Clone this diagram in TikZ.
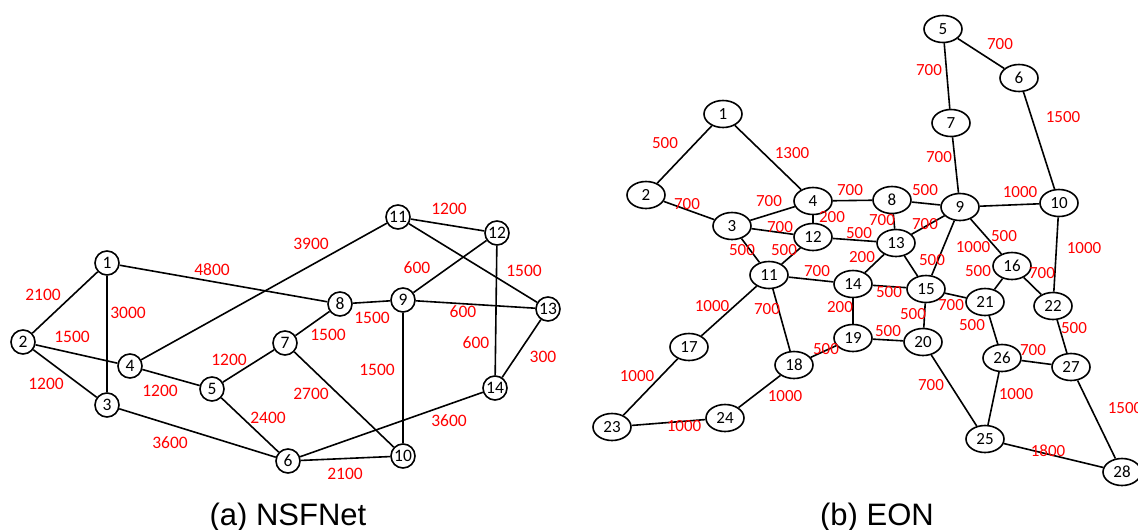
\documentclass[tikz,border=0pt]{standalone}
\usepackage{fontspec}
\setmainfont{Carlito}
\newfontfamily\capfont{Liberation Sans}
\usetikzlibrary{shapes.geometric}
\newcommand{\lab}[4]{\node[lbl] (#1) at (#2,#3) {#4};}
\newcommand{\elab}[4]{\node[elbl] (#1) at (#2,#3) {#4};}
\begin{document}
\begin{tikzpicture}[x=1pt,y=-1pt,
  nsf/.style={circle,draw,line width=1.6pt,minimum size=24pt,inner sep=0pt,fill=white,font=\fontsize{17.5}{17.5}\selectfont},
  eon/.style={ellipse,draw,line width=1.6pt,minimum width=38pt,minimum height=27pt,inner sep=0pt,fill=white,font=\fontsize{17}{17}\selectfont},
  lbl/.style={text=red,inner sep=0pt,font=\fontsize{17.5}{17.5}\selectfont},
  elbl/.style={text=red,inner sep=0pt,font=\fontsize{17}{17}\selectfont},
  link/.style={line width=1.6pt},
  captext/.style={font=\capfont\fontsize{31}{31}\selectfont,anchor=base,inner sep=0pt}]
\useasboundingbox (0,0) rectangle (1138,530);
% ---------- NSFNet ----------
\node[nsf] (n1) at (107,263) {1};
\node[nsf] (n2) at (23,342) {2};
\node[nsf] (n3) at (107,405) {3};
\node[nsf] (n4) at (130,366) {4};
\node[nsf] (n5) at (212,389) {5};
\node[nsf] (n6) at (288,461) {6};
\node[nsf] (n7) at (285,343) {7};
\node[nsf] (n8) at (340,304) {8};
\node[nsf] (n9) at (403,300) {9};
\node[nsf] (n10) at (403,456) {10};
\node[nsf] (n11) at (398,217) {11};
\node[nsf] (n12) at (497,233) {12};
\node[nsf] (n13) at (548,309) {13};
\node[nsf] (n14) at (495,388) {14};
\foreach \a/\b in {1/2,1/3,1/8,2/4,2/3,3/6,4/5,4/11,5/7,5/6,7/8,7/10,8/9,9/10,9/12,9/13,11/12,11/13,12/14,13/14,6/14,6/10}
  \draw[link] (n\a) -- (n\b);
\lab{a1}{43}{295}{2100}
\lab{a2}{128}{313}{3000}
\lab{a3}{212}{270}{4800}
\lab{a4}{72}{337}{1500}
\lab{a5}{46}{384}{1200}
\lab{a6}{160}{391}{1200}
\lab{a7}{229}{360}{1200}
\lab{a8}{268}{418}{2400}
\lab{a9}{170}{443}{3600}
\lab{a10}{311}{244}{3900}
\lab{a11}{328}{335}{1500}
\lab{a12}{372}{318}{1500}
\lab{a13}{377}{370}{1500}
\lab{a14}{311}{394}{2700}
\lab{a15}{449}{209}{1200}
\lab{a16}{417}{268}{600}
\lab{a17}{524}{271}{1500}
\lab{a18}{463}{312}{600}
\lab{a19}{476}{343}{600}
\lab{a20}{543}{357}{300}
\lab{a21}{449}{421}{3600}
\lab{a22}{345}{474}{2100}
% ---------- EON ----------
\node[eon] (e1) at (723,114) {1};
\node[eon] (e2) at (646,195) {2};
\node[eon] (e3) at (732,226) {3};
\node[eon] (e4) at (813,201) {4};
\node[eon] (e5) at (943,29) {5};
\node[eon] (e6) at (1019,78) {6};
\node[eon] (e7) at (951,123) {7};
\node[eon] (e8) at (892,200) {8};
\node[eon] (e9) at (960,207) {9};
\node[eon] (e10) at (1059,203) {10};
\node[eon] (e11) at (769,275) {11};
\node[eon] (e12) at (813,237) {12};
\node[eon] (e13) at (896,243) {13};
\node[eon] (e14) at (853,284) {14};
\node[eon] (e15) at (926,289) {15};
\node[eon] (e16) at (1012,266) {16};
\node[eon] (e17) at (689,347) {17};
\node[eon] (e18) at (794,365) {18};
\node[eon] (e19) at (853,338) {19};
\node[eon] (e20) at (923,342) {20};
\node[eon] (e21) at (985,302) {21};
\node[eon] (e22) at (1053,306) {22};
\node[eon] (e23) at (612,427) {23};
\node[eon] (e24) at (725,418) {24};
\node[eon] (e25) at (985,439) {25};
\node[eon] (e26) at (1002,358) {26};
\node[eon] (e27) at (1071,367) {27};
\node[eon] (e28) at (1122,472) {28};
\foreach \a/\b in {1/2,1/4,2/3,3/4,3/12,3/11,4/8,4/12,12/11,12/13,8/9,8/13,13/9,5/7,5/6,7/9,6/10,9/10,9/15,9/16,13/14,13/15,11/14,11/17,11/18,14/15,14/19,15/21,15/20,19/20,18/19,17/23,18/24,23/24,16/21,16/22,10/22,21/26,22/27,26/27,26/25,20/25,25/28,27/28}
  \draw[link] (e\a) -- (e\b);
\elab{b1}{665}{143}{500}
\elab{b2}{792}{153}{1300}
\elab{b3}{687}{204}{700}
\elab{b4}{769}{201}{700}
\elab{b5}{780}{227}{700}
\elab{b6}{742}{250}{500}
\elab{b7}{784}{250}{500}
\elab{b8}{832}{217}{200}
\elab{b9}{850}{190}{700}
\elab{b10}{925}{190}{500}
\elab{b11}{882}{220}{700}
\elab{b12}{859}{233}{500}
\elab{b13}{925}{224}{700}
\elab{b14}{862}{257}{200}
\elab{b15}{932}{260}{500}
\elab{b16}{973}{247}{1000}
\elab{b17}{1004}{236}{500}
\elab{b18}{817}{271}{700}
\elab{b19}{889}{292}{500}
\elab{b20}{951}{305}{700}
\elab{b21}{913}{314}{500}
\elab{b22}{840}{307}{200}
\elab{b23}{888}{331}{500}
\elab{b24}{826}{349}{500}
\elab{b25}{1020}{192}{1000}
\elab{b26}{1063}{117}{1500}
\elab{b27}{1000}{44}{700}
\elab{b28}{929}{70}{700}
\elab{b29}{939}{157}{700}
\elab{b30}{1084}{248}{1000}
\elab{b31}{978}{271}{500}
\elab{b32}{1042}{273}{700}
\elab{b33}{972}{325}{500}
\elab{b34}{1074}{328}{500}
\elab{b35}{1033}{350}{700}
\elab{b36}{1016}{394}{1000}
\elab{b37}{931}{385}{700}
\elab{b38}{1048}{451}{1800}
\elab{b39}{1125}{408}{1500}
\elab{b40}{712}{306}{1000}
\elab{b41}{767}{309}{700}
\elab{b42}{637}{376}{1000}
\elab{b43}{785}{396}{1000}
\elab{b44}{684}{426}{1000}
% ---------- captions ----------
\node[captext] (capa) at (288,525) {(a) NSFNet};
\node[captext] (capb) at (877,525) {(b) EON};
\end{tikzpicture}
\end{document}
